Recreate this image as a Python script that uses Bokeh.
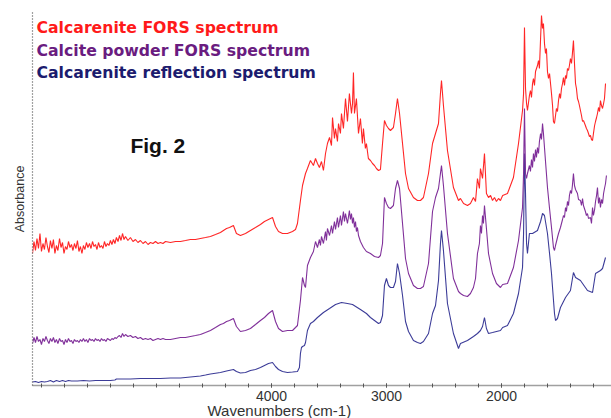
from bokeh.core.properties import value
from bokeh.embed import file_html
from bokeh.models import FixedTicker, Range1d, Title
from bokeh.plotting import figure
from bokeh.resources import INLINE

# ---- spectra: wavenumber (cm-1) and absorbance (arbitrary units, stacked) ----
reflection_wn = [
    6080, 6054, 6028, 6002, 5976, 5950, 5924, 5898, 5872, 5845, 5819, 5793, 5767, 5741,
    5689, 5637, 5584, 5532, 5480, 5402, 5363, 5350, 5323, 5228, 5141, 5054, 4967, 4880,
    4793, 4706, 4619, 4575, 4532, 4445, 4392, 4332, 4306, 4271, 4227, 4184, 4140, 4097,
    4062, 4027, 3992, 3966, 3940, 3905, 3862, 3818, 3775, 3758, 3749, 3740, 3731, 3714,
    3705, 3688, 3662, 3636, 3601, 3549, 3496, 3444, 3392, 3340, 3296, 3227, 3175, 3140,
    3105, 3070, 3053, 3035, 3018, 3001, 2983, 2966, 2940, 2922, 2905, 2887, 2861, 2835,
    2809, 2766, 2731, 2705, 2679, 2635, 2600, 2574, 2548, 2531, 2522, 2505, 2470, 2418,
    2374, 2357, 2296, 2244, 2209, 2183, 2165, 2148, 2131, 2113, 2078, 2009, 1990, 1948,
    1896, 1852, 1817, 1808, 1800, 1791, 1782, 1774, 1757, 1730, 1687, 1660, 1643, 1626,
    1600, 1582, 1565, 1556, 1539, 1530, 1513, 1487, 1443, 1400, 1374, 1356, 1313, 1252,
    1208, 1182, 1139, 1121, 1095,
]
reflection_abs = [
    0.015, 0.02, 0.01, 0.02, 0.015, 0.02, 0.03, 0.015, 0.03, 0.02, 0.03, 0.02, 0.03, 0.025,
    0.025, 0.03, 0.025, 0.03, 0.03, 0.03, 0.035, 0.045, 0.045, 0.045, 0.05, 0.05, 0.05, 0.055,
    0.055, 0.065, 0.075, 0.085, 0.095, 0.11, 0.125, 0.14, 0.12, 0.105, 0.11, 0.13, 0.14, 0.16,
    0.18, 0.20, 0.21, 0.17, 0.14, 0.12, 0.11, 0.115, 0.12, 0.16, 0.30, 0.36, 0.37, 0.38,
    0.41, 0.53, 0.60, 0.62, 0.66, 0.71, 0.75, 0.79, 0.81, 0.80, 0.79, 0.74, 0.70, 0.66,
    0.63, 0.60, 0.61, 0.68, 0.98, 1.05, 0.98, 0.96, 0.96, 1.02, 1.20, 1.10, 0.88, 0.62,
    0.52, 0.43, 0.41, 0.40, 0.42, 0.50, 0.70, 0.78, 1.03, 1.40, 1.53, 1.33, 0.80, 0.50,
    0.35, 0.40, 0.43, 0.47, 0.50, 0.53, 0.57, 0.66, 0.55, 0.50, 0.51, 0.53, 0.56, 0.58,
    0.70, 0.90, 1.16, 1.50, 2.30, 1.90, 1.40, 1.30, 1.50, 1.50, 1.53, 1.62, 1.70, 1.68,
    1.50, 1.30, 1.10, 0.96, 0.70, 0.63, 0.65, 0.76, 0.86, 0.93, 1.11, 1.06, 1.03, 0.93,
    0.91, 1.10, 1.13, 1.15, 1.26,
]

powder_wn = [
    6080, 6067, 6054, 6041, 6028, 6015, 6002, 5989, 5976, 5963, 5950, 5937, 5924, 5911,
    5898, 5885, 5872, 5859, 5845, 5832, 5819, 5806, 5793, 5780, 5767, 5754, 5741, 5728,
    5715, 5702, 5689, 5676, 5663, 5650, 5637, 5624, 5611, 5598, 5584, 5571, 5558, 5545,
    5532, 5519, 5506, 5493, 5480, 5467, 5454, 5441, 5428, 5415, 5402, 5389, 5376, 5363,
    5350, 5336, 5323, 5310, 5297, 5284, 5271, 5250, 5228, 5206, 5184, 5163, 5141, 5119,
    5097, 5075, 5054, 5032, 5010, 4988, 4967, 4945, 4923, 4880, 4836, 4793, 4749, 4706,
    4662, 4619, 4575, 4532, 4488, 4445, 4419, 4392, 4366, 4332, 4306, 4271, 4227, 4184,
    4140, 4097, 4062, 4027, 3992, 3966, 3940, 3905, 3862, 3818, 3792, 3775, 3749, 3731,
    3714, 3705, 3688, 3662, 3636, 3618, 3601, 3584, 3575, 3566, 3549, 3531, 3523, 3514,
    3496, 3479, 3470, 3453, 3444, 3427, 3418, 3401, 3392, 3375, 3366, 3357, 3340, 3323,
    3314, 3305, 3296, 3288, 3279, 3270, 3262, 3253, 3244, 3227, 3201, 3175, 3140, 3105,
    3070, 3053, 3035, 3018, 3001, 2983, 2966, 2940, 2922, 2905, 2887, 2861, 2835, 2809,
    2766, 2731, 2705, 2679, 2635, 2600, 2574, 2548, 2531, 2522, 2505, 2470, 2418, 2374,
    2357, 2330, 2296, 2270, 2244, 2226, 2209, 2192, 2183, 2174, 2165, 2157, 2148, 2131,
    2113, 2078, 2044, 2009, 1990, 1948, 1896, 1852, 1817, 1808, 1800, 1791, 1782, 1774,
    1757, 1748, 1739, 1730, 1722, 1713, 1704, 1696, 1687, 1678, 1670, 1660, 1652, 1643,
    1635, 1626, 1617, 1600, 1582, 1565, 1548, 1539, 1530, 1513, 1504, 1487, 1469, 1461,
    1452, 1443, 1435, 1426, 1417, 1409, 1400, 1391, 1383, 1374, 1365, 1356, 1339, 1330,
    1313, 1304, 1295, 1287, 1270, 1261, 1252, 1243, 1226, 1217, 1208, 1200, 1190, 1182,
    1173, 1165, 1156, 1147, 1139, 1130, 1121, 1112, 1104, 1095, 1087,
]
powder_abs = [
    0.40, 0.46, 0.41, 0.47, 0.42, 0.44, 0.39, 0.45, 0.42, 0.47, 0.43, 0.40, 0.45, 0.42,
    0.46, 0.41, 0.44, 0.40, 0.45, 0.42, 0.43, 0.39, 0.44, 0.41, 0.45, 0.42, 0.43, 0.40,
    0.44, 0.42, 0.43, 0.41, 0.44, 0.42, 0.45, 0.42, 0.44, 0.41, 0.45, 0.43, 0.44, 0.42,
    0.45, 0.43, 0.44, 0.42, 0.45, 0.43, 0.44, 0.42, 0.45, 0.44, 0.43, 0.45, 0.44, 0.46,
    0.45, 0.47, 0.48, 0.46, 0.50, 0.47, 0.49, 0.47, 0.48, 0.46, 0.47, 0.45, 0.46, 0.44,
    0.45, 0.44, 0.45, 0.43, 0.44, 0.45, 0.44, 0.45, 0.44, 0.44, 0.45, 0.46, 0.46, 0.47,
    0.48, 0.49, 0.51, 0.53, 0.56, 0.59, 0.60, 0.62, 0.63, 0.65, 0.57, 0.52, 0.53, 0.55,
    0.59, 0.63, 0.66, 0.70, 0.73, 0.62, 0.55, 0.52, 0.53, 0.53, 0.56, 0.58, 0.83, 1.06,
    0.98, 0.96, 1.18, 1.26, 1.32, 1.42, 1.36, 1.44, 1.38, 1.47, 1.40, 1.52, 1.43, 1.55,
    1.48, 1.58, 1.50, 1.62, 1.54, 1.66, 1.56, 1.68, 1.58, 1.72, 1.62, 1.70, 1.60, 1.73,
    1.64, 1.70, 1.60, 1.66, 1.56, 1.62, 1.52, 1.56, 1.48, 1.42, 1.36, 1.32, 1.30, 1.27,
    1.26, 1.28, 1.40, 1.86, 1.80, 1.76, 1.75, 1.78, 1.95, 2.03, 1.95, 1.60, 1.25, 1.10,
    0.98, 0.95, 0.95, 0.97, 1.20, 1.72, 1.86, 1.95, 2.10, 2.18, 1.98, 1.50, 1.05, 0.92,
    0.90, 0.88, 0.87, 0.90, 0.96, 1.05, 1.30, 1.40, 1.58, 1.50, 1.68, 1.60, 1.78, 1.55,
    1.30, 1.10, 1.00, 0.96, 0.99, 1.00, 1.16, 1.43, 1.76, 2.10, 2.75, 2.10, 2.05, 2.10,
    2.18, 2.12, 2.24, 2.16, 2.30, 2.22, 2.34, 2.26, 2.36, 2.30, 2.42, 2.50, 2.44, 2.60,
    2.50, 2.36, 2.22, 1.96, 1.75, 1.56, 1.36, 1.33, 1.38, 1.46, 1.50, 1.56, 1.64, 1.68,
    1.66, 1.76, 1.72, 1.82, 1.78, 1.88, 1.93, 1.90, 1.98, 2.10, 1.98, 1.94, 1.90, 1.84,
    1.83, 1.78, 1.85, 1.78, 1.72, 1.68, 1.70, 1.65, 1.66, 1.60, 1.76, 1.68, 1.74, 1.82,
    1.88, 1.96, 1.80, 1.86, 1.76, 1.84, 1.80, 1.90, 1.95, 2.00, 2.08,
]

fors_wn = [
    6080, 6067, 6054, 6041, 6028, 6015, 6002, 5989, 5976, 5963, 5950, 5937, 5924, 5911,
    5898, 5885, 5872, 5859, 5845, 5832, 5819, 5806, 5793, 5780, 5767, 5754, 5741, 5728,
    5715, 5702, 5689, 5676, 5663, 5650, 5637, 5624, 5611, 5598, 5584, 5571, 5558, 5545,
    5532, 5519, 5506, 5493, 5480, 5467, 5454, 5441, 5428, 5415, 5402, 5389, 5376, 5363,
    5350, 5336, 5323, 5310, 5297, 5284, 5271, 5250, 5228, 5206, 5184, 5163, 5141, 5119,
    5097, 5075, 5054, 5032, 5010, 4988, 4967, 4945, 4923, 4880, 4836, 4793, 4749, 4706,
    4662, 4619, 4575, 4532, 4488, 4445, 4419, 4392, 4366, 4332, 4306, 4271, 4227, 4184,
    4140, 4097, 4062, 4027, 3992, 3966, 3940, 3905, 3862, 3818, 3792, 3775, 3749, 3731,
    3705, 3688, 3662, 3636, 3618, 3601, 3584, 3566, 3549, 3531, 3514, 3496, 3479, 3470,
    3453, 3444, 3427, 3418, 3401, 3392, 3375, 3357, 3340, 3323, 3305, 3296, 3288, 3279,
    3262, 3244, 3227, 3210, 3201, 3184, 3175, 3158, 3140, 3122, 3105, 3088, 3070, 3053,
    3035, 3018, 3001, 2983, 2966, 2940, 2922, 2905, 2887, 2861, 2835, 2809, 2766, 2731,
    2705, 2679, 2635, 2600, 2574, 2548, 2531, 2522, 2505, 2470, 2418, 2374, 2357, 2330,
    2296, 2270, 2244, 2226, 2209, 2192, 2183, 2165, 2148, 2131, 2113, 2095, 2078, 2061,
    2044, 2026, 2009, 1990, 1948, 1896, 1852, 1817, 1808, 1800, 1791, 1782, 1774, 1757,
    1748, 1739, 1730, 1722, 1713, 1704, 1687, 1678, 1670, 1660, 1652, 1643, 1635, 1626,
    1617, 1609, 1600, 1591, 1582, 1565, 1556, 1548, 1539, 1530, 1522, 1513, 1504, 1495,
    1487, 1478, 1469, 1461, 1452, 1443, 1435, 1426, 1417, 1409, 1400, 1391, 1383, 1374,
    1365, 1356, 1348, 1339, 1330, 1322, 1313, 1304, 1295, 1287, 1270, 1261, 1252, 1243,
    1235, 1226, 1217, 1208, 1200, 1190, 1182, 1173, 1165, 1156, 1147, 1139, 1130, 1121,
    1112, 1104, 1095,
]
fors_abs = [
    1.30, 1.42, 1.33, 1.45, 1.35, 1.50, 1.32, 1.40, 1.34, 1.46, 1.37, 1.31, 1.43, 1.35,
    1.44, 1.30, 1.38, 1.33, 1.45, 1.36, 1.41, 1.30, 1.37, 1.34, 1.42, 1.36, 1.39, 1.33,
    1.40, 1.35, 1.43, 1.32, 1.37, 1.30, 1.38, 1.34, 1.41, 1.36, 1.40, 1.35, 1.42, 1.37,
    1.39, 1.34, 1.41, 1.36, 1.38, 1.35, 1.42, 1.37, 1.40, 1.38, 1.43, 1.39, 1.44, 1.40,
    1.46, 1.42, 1.48, 1.43, 1.50, 1.44, 1.47, 1.43, 1.46, 1.42, 1.44, 1.41, 1.43, 1.40,
    1.42, 1.39, 1.41, 1.40, 1.42, 1.40, 1.41, 1.40, 1.42, 1.41, 1.42, 1.42, 1.43, 1.44,
    1.44, 1.45, 1.46, 1.47, 1.49, 1.51, 1.53, 1.55, 1.56, 1.58, 1.50, 1.48, 1.50, 1.53,
    1.56, 1.59, 1.62, 1.64, 1.66, 1.57, 1.52, 1.50, 1.50, 1.52, 1.54, 1.60, 1.83, 1.98,
    2.10, 2.15, 2.23, 2.18, 2.25, 2.20, 2.16, 2.22, 2.13, 2.30, 2.40, 2.46, 2.38, 2.66,
    2.45, 2.55, 2.42, 2.60, 2.50, 2.70, 2.55, 2.85, 2.62, 2.90, 2.70, 2.80, 3.11, 2.70,
    2.85, 2.50, 2.65, 2.40, 2.55, 2.35, 2.40, 2.25, 2.23, 2.20, 2.18, 2.15, 2.13, 2.14,
    2.40, 2.63, 2.58, 2.55, 2.53, 2.56, 2.70, 2.85, 2.70, 2.40, 2.10, 1.95, 1.86, 1.83,
    1.83, 1.86, 2.10, 2.40, 2.50, 2.60, 2.90, 3.03, 2.78, 2.33, 1.96, 1.83, 1.85, 1.80,
    1.78, 1.80, 1.86, 1.82, 2.05, 1.95, 2.15, 2.05, 2.30, 1.90, 1.86, 1.88, 1.83, 1.86,
    1.82, 1.85, 1.83, 1.88, 1.90, 2.06, 2.40, 2.73, 2.90, 3.56, 2.95, 2.80, 2.73, 2.88,
    2.93, 2.86, 3.00, 3.05, 2.98, 3.12, 3.18, 3.23, 3.15, 3.45, 3.68, 3.55, 3.60, 3.40,
    3.30, 3.35, 3.12, 3.05, 3.10, 2.90, 2.78, 2.62, 2.60, 2.68, 2.75, 2.72, 2.83, 2.90,
    2.85, 2.95, 3.00, 3.06, 2.98, 3.08, 3.05, 3.15, 3.13, 3.18, 3.25, 3.20, 3.30, 3.43,
    3.20, 3.00, 2.95, 2.85, 2.82, 2.78, 2.73, 2.68, 2.62, 2.63, 2.58, 2.55, 2.53, 2.50,
    2.47, 2.48, 2.44, 2.43, 2.50, 2.58, 2.62, 2.66, 2.70, 2.76, 2.72, 2.83, 2.78, 2.75,
    2.80, 2.85, 3.00,
]

series_names = [
    "Calcarenite FORS spectrum",
    "Calcite powder FORS spectrum",
    "Calcarenite reflection spectrum",
]
line_colors = ["#ff2626", "#80309a", "#3c3c98"]
text_colors = ["#ff1a1a", "#6a1c80", "#1c1c6e"]
x_tick_values = [4000, 3000, 2000]
x_minor_ticks = list(range(1200, 6001, 200))

p = figure(
    width=611, height=418, output_backend="svg", toolbar_location=None,
    x_range=Range1d(6080, 1043), y_range=Range1d(-0.02, 3.71),
    min_border_left=32, min_border_right=0, min_border_top=12, min_border_bottom=33,
    background_fill_color="white", border_fill_color="white",
)
p.grid.visible = False
p.outline_line_color = None

# bottom axis: grey line with small dot-like ticks, labels only at round thousands
xa = p.xaxis[0]
xa.ticker = FixedTicker(ticks=x_tick_values, minor_ticks=x_minor_ticks)
xa.axis_line_color = "#a0a0a0"
xa.axis_line_width = 1.5
xa.major_tick_in = 2
xa.major_tick_out = 2
xa.minor_tick_in = 2
xa.minor_tick_out = 2
xa.major_tick_line_color = "#555555"
xa.minor_tick_line_color = "#555555"
xa.major_label_text_font = "Liberation Sans"
xa.major_label_text_font_size = "14px"
xa.major_label_text_color = "#333333"
xa.major_label_standoff = 3

# x title sits just under the tick labels, left of the frame centre
p.add_layout(Title(text="Wavenumbers (cm-1)", align="left", offset=175, standoff=-8,
                   text_font="Liberation Sans", text_font_size="15px",
                   text_font_style="normal", text_color="#333333"), "below")

# left axis: dotted spine plus title
ya = p.yaxis[0]
ya.ticker = FixedTicker(ticks=[])
ya.major_tick_out = 0
ya.major_tick_in = 0
ya.axis_line_dash = "1 2"
ya.axis_line_color = "#444444"
ya.axis_line_width = 1.2
ya.axis_label = "Absorbance"
ya.axis_label_standoff = 6
ya.axis_label_text_font = "Liberation Sans"
ya.axis_label_text_font_size = "12.5px"
ya.axis_label_text_font_style = "normal"
ya.axis_label_text_color = "#333333"

# spectra
p.line(reflection_wn, reflection_abs, line_color=line_colors[2], line_width=1.1)
p.line(powder_wn, powder_abs, line_color=line_colors[1], line_width=1.1)
p.line(fors_wn, fors_abs, line_color=line_colors[0], line_width=1.1)

# series captions in the upper left
caption_y = [3.565, 3.335, 3.115]
for name, col, yy in zip(series_names, text_colors, caption_y):
    p.text(x=[6045], y=[yy], text=[name], text_color=col,
           text_font=value("DejaVu Sans"), text_font_style="bold",
           text_font_size="15.7px", text_baseline="alphabetic", text_align="left")

p.text(x=[5228], y=[2.38], text=["Fig. 2"], text_color="#111111",
       text_font=value("Liberation Sans"), text_font_style="bold",
       text_font_size="21px", text_baseline="alphabetic", text_align="left")

open("out.html", "w").write(file_html(p, INLINE))
